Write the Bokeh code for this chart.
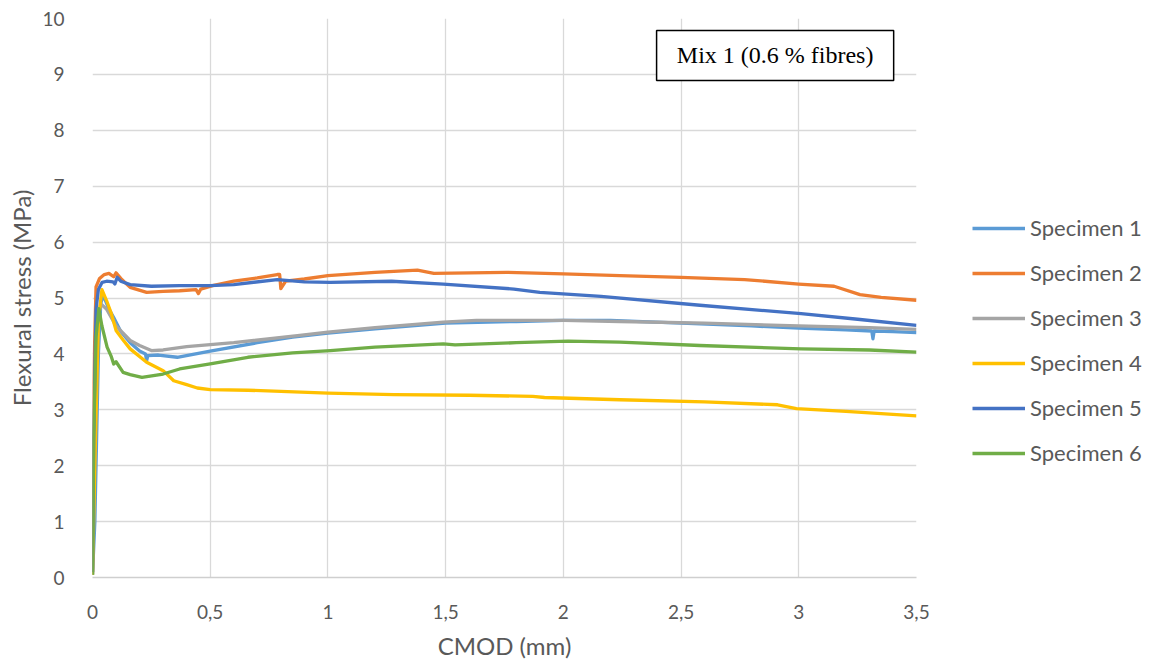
import math
from bokeh.plotting import figure
from bokeh.models import (Legend, LegendItem, FixedTicker, Label, BoxAnnotation, Range1d, Title)
from bokeh.embed import file_html
from bokeh.resources import INLINE

# ---------------- data ----------------
s1_x = [0, 0.01, 0.025, 0.035, 0.045, 0.07, 0.09, 0.12, 0.16, 0.2, 0.225, 0.23, 0.235, 0.28, 0.36,
        0.5, 0.7, 0.85, 1.0, 1.2, 1.5, 1.8, 2.0, 2.2, 2.5, 2.8, 3.0, 3.2, 3.31, 3.315, 3.32, 3.4, 3.5]
s1_y = [0.05, 1.0, 4.0, 4.9, 5.05, 4.8, 4.65, 4.4, 4.2, 4.05, 4.0, 3.88, 3.97, 3.98, 3.94,
        4.05, 4.2, 4.3, 4.37, 4.45, 4.55, 4.58, 4.6, 4.6, 4.55, 4.5, 4.46, 4.43, 4.41, 4.27, 4.41, 4.4, 4.38]

s2_x = [0, 0.005, 0.015, 0.03, 0.05, 0.07, 0.09, 0.1, 0.12, 0.16, 0.23, 0.3, 0.37, 0.44, 0.45, 0.46,
        0.51, 0.6, 0.7, 0.785, 0.795, 0.8, 0.82, 0.9, 1.0, 1.2, 1.38, 1.45, 1.76, 2.0, 2.24, 2.5,
        2.77, 3.0, 3.15, 3.26, 3.35, 3.5]
s2_y = [0.1, 3.5, 5.2, 5.35, 5.42, 5.44, 5.38, 5.45, 5.35, 5.19, 5.10, 5.12, 5.13, 5.15, 5.08, 5.16,
        5.22, 5.3, 5.36, 5.42, 5.42, 5.17, 5.3, 5.34, 5.40, 5.46, 5.50, 5.44, 5.46, 5.43, 5.40, 5.37,
        5.33, 5.25, 5.21, 5.06, 5.01, 4.96]

s3_x = [0, 0.01, 0.025, 0.035, 0.06, 0.1, 0.16, 0.2, 0.25, 0.3, 0.4, 0.6, 0.88, 1.0, 1.2, 1.49,
        1.63, 2.0, 2.24, 2.6, 3.0, 3.3, 3.5]
s3_y = [0.05, 2.5, 4.7, 4.9, 4.8, 4.5, 4.24, 4.15, 4.06, 4.07, 4.13, 4.2, 4.33, 4.39, 4.47, 4.57,
        4.6, 4.6, 4.58, 4.55, 4.5, 4.47, 4.44]

s4_x = [0, 0.01, 0.025, 0.04, 0.06, 0.08, 0.09, 0.1, 0.13, 0.16, 0.23, 0.3, 0.345, 0.4, 0.445, 0.5,
        0.66, 1.0, 1.28, 1.6, 1.87, 1.92, 2.24, 2.6, 2.91, 2.99, 3.2, 3.5]
s4_y = [0.05, 2.0, 4.6, 5.15, 4.95, 4.72, 4.57, 4.42, 4.25, 4.09, 3.85, 3.7, 3.52, 3.45, 3.39, 3.36,
        3.35, 3.30, 3.27, 3.26, 3.24, 3.22, 3.18, 3.14, 3.09, 3.02, 2.97, 2.89]

s5_x = [0, 0.005, 0.015, 0.025, 0.041, 0.06, 0.087, 0.095, 0.105, 0.12, 0.16, 0.25, 0.37, 0.5, 0.6,
        0.785, 0.9, 1.01, 1.27, 1.49, 1.79, 1.9, 2.16, 2.58, 3.01, 3.25, 3.5]
s5_y = [0.1, 2.5, 4.8, 5.15, 5.28, 5.3, 5.29, 5.25, 5.37, 5.3, 5.24, 5.21, 5.22, 5.22, 5.24,
        5.33, 5.29, 5.28, 5.30, 5.25, 5.16, 5.10, 5.03, 4.87, 4.72, 4.62, 4.51]

s6_x = [0, 0.005, 0.015, 0.027, 0.04, 0.062, 0.08, 0.09, 0.1, 0.13, 0.16, 0.21, 0.3, 0.37, 0.5, 0.66,
        0.85, 1.01, 1.2, 1.49, 1.54, 1.8, 2.02, 2.24, 2.58, 3.01, 3.3, 3.5]
s6_y = [0.05, 2.5, 4.3, 4.81, 4.5, 4.12, 3.95, 3.82, 3.86, 3.67, 3.63, 3.58, 3.64, 3.73, 3.82, 3.94,
        4.02, 4.06, 4.12, 4.18, 4.16, 4.2, 4.23, 4.21, 4.15, 4.09, 4.07, 4.03]

series_names = ["Specimen 1", "Specimen 2", "Specimen 3", "Specimen 4", "Specimen 5", "Specimen 6"]
series_colors = ["#5B9BD5", "#ED7D31", "#A5A5A5", "#FFC000", "#4472C4", "#70AD47"]

x_ticks = [0, 0.5, 1, 1.5, 2, 2.5, 3, 3.5]
x_tick_labels = ["0", "0,5", "1", "1,5", "2", "2,5", "3", "3,5"]
y_ticks = [0, 1, 2, 3, 4, 5, 6, 7, 8, 9, 10]

x_title = "CMOD (mm)"
y_title = "Flexural stress (MPa)"
note_text = "Mix 1 (0.6 % fibres)"

# ---------------- figure ----------------
FONT = "Lato"
TXT = "#595959"
GRID = "#D9D9D9"

p = figure(frame_width=824, frame_height=559, output_backend="svg", toolbar_location=None,
           x_range=Range1d(0, 3.5), y_range=Range1d(0, 10),
           min_border_left=92, min_border_right=0, min_border_top=18, min_border_bottom=89)
p.outline_line_color = None
p.background_fill_color = "white"
p.border_fill_color = "white"

p.xaxis.ticker = FixedTicker(ticks=x_ticks)
p.xaxis.major_label_overrides = {t: l for t, l in zip(x_ticks, x_tick_labels)}
p.yaxis.ticker = FixedTicker(ticks=y_ticks)

for ax in (p.xaxis[0], p.yaxis[0]):
    ax.major_tick_line_color = None
    ax.minor_tick_line_color = None
    ax.major_label_text_font = FONT
    ax.major_label_text_font_size = "19px"
    ax.major_label_text_color = TXT
    ax.axis_label_text_font = FONT
    ax.axis_label_text_font_size = "24px"
    ax.axis_label_text_font_style = "normal"
    ax.axis_label_text_color = TXT

p.xaxis.axis_line_color = "#CFCFCF"
p.xaxis.axis_line_width = 1.5
p.yaxis.axis_line_color = None
p.xaxis.major_label_standoff = 21
p.yaxis.major_label_standoff = 22
p.xaxis.axis_label = x_title
p.xaxis.axis_label_standoff = 9

p.xgrid.grid_line_color = GRID
p.ygrid.grid_line_color = GRID
p.xgrid.grid_line_width = 1.3
p.ygrid.grid_line_width = 1.3

xs = [s1_x, s2_x, s3_x, s4_x, s5_x, s6_x]
ys = [s1_y, s2_y, s3_y, s4_y, s5_y, s6_y]
items = []
for name, col, x, y in zip(series_names, series_colors, xs, ys):
    r = p.line(x, y, line_color=col, line_width=3.3, line_join="round")
    items.append(LegendItem(label=name, renderers=[r]))

legend = Legend(items=items, location=(56, 111), orientation="vertical",
                glyph_width=53, glyph_height=24, label_height=24, spacing=18,
                label_standoff=5, padding=0, margin=0,
                label_text_font=FONT, label_text_font_size="22px", label_text_color=TXT,
                border_line_color=None, background_fill_alpha=0)
p.add_layout(legend, "right")

# y-axis title
ytitle = Title(text=y_title, align="center", standoff=8,
               text_font=FONT, text_font_size="24px", text_font_style="normal", text_color=TXT)
p.add_layout(ytitle, "left")

# annotation box
box = BoxAnnotation(left=2.396, right=3.403, bottom=8.89, top=9.785,
                    fill_color="white", fill_alpha=1, line_color="black", line_alpha=1,
                    line_width=1.5)
p.add_layout(box)
note = Label(x=2.8995, y=9.34, text=note_text, text_align="center", text_baseline="middle",
             text_font="Liberation Serif", text_font_size="24px", text_color="black")
p.add_layout(note)

open("out.html", "w").write(file_html(p, INLINE))
